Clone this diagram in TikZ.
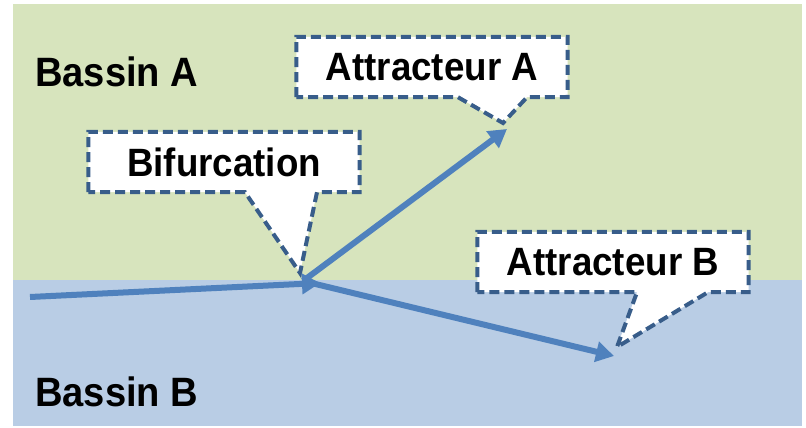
\documentclass[tikz,border=0pt]{standalone}
\usepackage{fontspec}
\setmainfont{Liberation Sans}[FakeStretch=0.93]
\usetikzlibrary{arrows.meta}
\definecolor{basinA}{HTML}{D7E4BD}
\definecolor{basinB}{HTML}{B9CDE5}
\definecolor{flow}{HTML}{4F81BD}
\definecolor{edge}{HTML}{385D8A}
\pgfdeclarelayer{back}
\pgfdeclarelayer{shapes}
\pgfsetlayers{back,shapes,main}
\tikzset{
  label text/.style={font=\fontsize{39.5}{42}\selectfont\bfseries, inner sep=0pt},
  callout box/.style={label text, minimum width=271pt, minimum height=60pt},
  callout line/.style={draw=edge, line width=4pt, dash pattern=on 10pt off 5pt,
    fill=white, line join=miter},
  flow arrow/.style={draw=flow, line width=6pt, -{Triangle[length=18pt,width=20pt]}},
}
\begin{document}
\begin{tikzpicture}[x=1pt,y=-1pt]
\useasboundingbox (0,0) rectangle (806,428);
\begin{pgfonlayer}{back}
  \fill[white] (0,0) rectangle (806,428);
  \fill[basinA] (13,4) rectangle (802,280);
  \fill[basinB] (13,280) rectangle (802,426);
\end{pgfonlayer}

% basin names
\node[label text, anchor=base west, font=\fontsize{41}{44}\selectfont\bfseries] (ba) at (35,86) {Bassin A};
\node[label text, anchor=base west, font=\fontsize{41}{44}\selectfont\bfseries] (bb) at (35,406) {Bassin B};

% callouts: boxes with their pointer tips
\node[callout box] (bif) at (224,162) {Bifurcation};
\node[callout box] (atA) at (432,67) {Attracteur A};
\node[callout box] (atB) at (613,262) {Attracteur B};
\coordinate (biftip) at (300,273);
\coordinate (atAtip) at (503,123);
\coordinate (atBtip) at (617,347);

\begin{pgfonlayer}{shapes}
  \draw[callout line] (bif.south west) -- (bif.north west) -- (bif.north east)
    -- (bif.south east) -- ([xshift=93pt]bif.south) -- (biftip)
    -- ([xshift=21pt]bif.south) -- cycle;
  \draw[callout line] (atA.south west) -- (atA.north west) -- (atA.north east)
    -- (atA.south east) -- ([xshift=95pt]atA.south) -- (atAtip)
    -- ([xshift=26pt]atA.south) -- cycle;
  \draw[callout line] (atB.south west) -- (atB.north west) -- (atB.north east)
    -- (atB.south east) -- ([xshift=95pt]atB.south) -- (atBtip)
    -- ([xshift=24pt]atB.south) -- cycle;
\end{pgfonlayer}

% trajectories
\coordinate (src) at (30,297);
\coordinate (fork) at (303,281);
\coordinate (join) at (320,283);
\coordinate (endA) at (507,129);
\coordinate (endB) at (614,356);
\draw[flow arrow] (src) -- (join);
\draw[flow arrow] (fork) -- (endA);
\draw[flow arrow] (fork) -- (endB);
\end{tikzpicture}
\end{document}
